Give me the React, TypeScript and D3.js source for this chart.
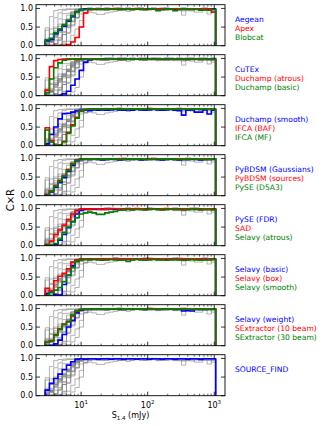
import * as d3 from "d3";

// flux bins (log spaced, mJy)
const binStart = 0.46;
const binStep = 0.064;
const nBins = 40;
const binEdges = d3.range(nBins + 1).map((i) => Math.pow(10, binStart + binStep * i));

const aegean = [0.13, 0.17, 0.32, 0.42, 0.52, 0.66, 0.78, 0.90, 0.97, 0.99,
  1.00, 0.99, 1.00, 0.99, 1.00, 0.99, 0.98, 1.00, 0.99, 1.00,
  0.99, 0.99, 1.00, 0.98, 0.99, 1.00, 0.99, 0.99, 1.00, 0.99,
  0.98, 0.99, 1.00, 0.99, 0.99, 0.98, 0.99, 1.00, 0.99, 0.99];
const apex = [0.00, 0.00, 0.00, 0.00, 0.01, 0.03, 0.10, 0.22, 0.50, 0.88,
  0.97, 0.99, 0.99, 0.98, 0.99, 0.99, 1.00, 0.99, 0.98, 0.99,
  0.99, 1.00, 0.99, 0.99, 0.98, 0.99, 0.99, 1.00, 0.99, 0.98,
  0.99, 0.99, 0.99, 0.98, 0.99, 0.99, 0.98, 0.99, 0.98, 0.90];
const blobcat = [0.16, 0.20, 0.35, 0.45, 0.56, 0.68, 0.80, 0.90, 0.96, 0.97,
  0.98, 0.97, 0.98, 0.98, 0.97, 0.98, 0.98, 0.97, 0.98, 0.98,
  0.97, 0.98, 0.98, 0.97, 0.98, 0.98, 0.94, 0.97, 0.98, 0.98,
  0.94, 0.97, 0.98, 0.98, 0.97, 0.98, 0.95, 0.96, 0.95, 0.97];
const cutex = [0.00, 0.00, 0.00, 0.01, 0.05, 0.12, 0.28, 0.45, 0.68, 0.90,
  0.96, 0.98, 0.99, 0.99, 1.00, 1.00, 0.99, 1.00, 1.00, 0.99,
  1.00, 0.99, 1.00, 1.00, 0.99, 1.00, 1.00, 0.99, 1.00, 1.00,
  0.99, 1.00, 0.99, 1.00, 1.00, 0.99, 1.00, 1.00, 0.99, 1.00];
const duchampAtrous = [0.15, 0.78, 0.94, 0.97, 0.98, 0.99, 0.98, 0.99, 0.98, 0.99,
  0.98, 0.99, 0.98, 0.98, 0.97, 0.98, 0.99, 0.98, 0.97, 0.98,
  0.98, 0.99, 0.98, 0.97, 0.98, 0.98, 0.99, 0.98, 0.97, 0.98,
  0.99, 0.98, 0.98, 0.97, 0.98, 0.98, 0.99, 0.98, 0.97, 0.98];
const duchampBasic = [0.08, 0.45, 0.75, 0.88, 0.95, 0.97, 0.98, 0.97, 0.98, 0.98,
  0.97, 0.98, 0.98, 0.97, 0.98, 0.99, 0.98, 0.97, 0.98, 0.98,
  0.99, 0.98, 0.97, 0.98, 0.98, 0.97, 0.98, 0.99, 0.98, 0.97,
  0.98, 0.98, 0.97, 0.98, 0.99, 0.98, 0.97, 0.98, 0.98, 0.97];
const duchampSmooth = [0.05, 0.30, 0.50, 0.72, 0.86, 0.87, 0.90, 0.93, 0.95, 0.95,
  0.94, 0.96, 0.95, 0.96, 0.95, 0.96, 0.97, 0.96, 0.95, 0.96,
  0.95, 0.97, 0.96, 0.95, 0.96, 0.97, 0.96, 0.95, 0.96, 0.97,
  0.95, 0.94, 0.82, 0.95, 0.96, 0.90, 0.90, 0.96, 0.85, 0.95];
const ifcaBaf = [0.48, 0.14, 0.01, 0.02, 0.12, 0.36, 0.56, 0.76, 0.93, 0.97,
  0.98, 0.99, 0.98, 0.99, 0.99, 0.98, 0.99, 1.00, 0.99, 0.98,
  0.99, 0.99, 0.98, 0.99, 1.00, 0.99, 0.98, 0.99, 0.99, 0.98,
  0.99, 1.00, 0.99, 0.98, 0.99, 0.99, 0.98, 0.99, 0.99, 0.98];
const ifcaMf = [0.42, 0.10, 0.01, 0.02, 0.10, 0.33, 0.53, 0.74, 0.92, 0.97,
  0.98, 0.98, 0.99, 0.98, 0.98, 0.99, 0.98, 0.99, 0.98, 0.98,
  0.99, 0.98, 0.98, 0.99, 0.98, 0.98, 0.99, 0.98, 0.98, 0.99,
  0.98, 0.98, 0.99, 0.98, 0.98, 0.99, 0.98, 0.98, 0.99, 0.98];
const pybdsmGauss = [0.02, 0.10, 0.22, 0.35, 0.48, 0.65, 0.82, 0.94, 0.97, 0.98,
  0.97, 0.98, 0.97, 0.96, 0.97, 0.98, 0.97, 0.96, 0.97, 0.97,
  0.98, 0.97, 0.96, 0.97, 0.98, 0.97, 0.97, 0.96, 0.97, 0.98,
  0.97, 0.96, 0.97, 0.97, 0.98, 0.97, 0.96, 0.97, 0.97, 0.98];
const pybdsmSrc = [0.03, 0.13, 0.26, 0.40, 0.53, 0.70, 0.86, 0.96, 0.98, 0.99,
  0.98, 0.99, 0.99, 0.98, 0.99, 0.99, 0.98, 0.99, 1.00, 0.99,
  0.98, 0.99, 0.99, 0.98, 0.99, 1.00, 0.99, 0.98, 0.99, 0.99,
  0.98, 0.99, 0.99, 1.00, 0.99, 0.98, 0.99, 0.99, 0.98, 0.99];
const pyseD5A3 = [0.02, 0.12, 0.25, 0.38, 0.52, 0.68, 0.85, 0.95, 0.98, 0.98,
  0.99, 0.98, 0.99, 0.98, 0.98, 0.99, 0.98, 0.97, 0.98, 0.99,
  0.98, 0.98, 0.99, 0.98, 0.97, 0.98, 0.99, 0.98, 0.98, 0.99,
  0.98, 0.97, 0.98, 0.98, 0.99, 0.98, 0.98, 0.97, 0.98, 0.99];
const pyseFdr = [0.00, 0.01, 0.04, 0.15, 0.30, 0.48, 0.65, 0.85, 0.95, 0.98,
  0.99, 0.98, 0.99, 0.99, 1.00, 0.99, 0.98, 0.99, 0.99, 1.00,
  0.99, 0.99, 0.98, 0.99, 1.00, 0.99, 0.99, 0.98, 0.99, 0.99,
  1.00, 0.99, 0.98, 0.99, 0.99, 1.00, 0.99, 0.98, 0.99, 0.99];
const sad = [0.03, 0.12, 0.30, 0.42, 0.55, 0.70, 0.85, 0.95, 0.98, 0.99,
  0.98, 0.99, 0.99, 0.98, 0.99, 1.00, 0.99, 0.99, 0.98, 0.99,
  0.99, 1.00, 0.99, 0.98, 0.99, 0.99, 0.98, 0.99, 1.00, 0.99,
  0.99, 0.98, 0.99, 0.99, 1.00, 0.99, 0.98, 0.99, 0.99, 0.98];
const selavyAtrous = [0.02, 0.03, 0.06, 0.18, 0.35, 0.50, 0.64, 0.75, 0.85, 0.88,
  0.90, 0.88, 0.84, 0.84, 0.88, 0.90, 0.92, 0.95, 0.96, 0.97,
  0.96, 0.97, 0.97, 0.96, 0.97, 0.98, 0.97, 0.96, 0.97, 0.98,
  0.97, 0.97, 0.96, 0.97, 0.98, 0.97, 0.96, 0.97, 0.97, 0.96];
const selavyBasic = [0.06, 0.12, 0.03, 0.02, 0.30, 0.55, 0.80, 0.94, 0.97, 0.98,
  0.99, 0.98, 0.99, 0.99, 0.98, 0.99, 1.00, 0.99, 0.98, 0.99,
  0.99, 0.98, 0.99, 1.00, 0.99, 0.98, 0.99, 0.99, 0.98, 0.99,
  1.00, 0.99, 0.98, 0.99, 0.99, 0.98, 0.99, 1.00, 0.99, 0.98];
const selavyBox = [0.20, 0.12, 0.40, 0.52, 0.60, 0.72, 0.90, 0.96, 0.98, 0.99,
  0.98, 0.99, 0.99, 0.98, 0.99, 0.99, 1.00, 0.99, 0.98, 0.99,
  0.99, 0.98, 0.99, 0.99, 1.00, 0.99, 0.98, 0.99, 0.99, 0.98,
  0.99, 1.00, 0.99, 0.98, 0.99, 0.99, 0.98, 0.99, 0.99, 0.98];
const selavySmooth = [0.02, 0.08, 0.15, 0.22, 0.38, 0.55, 0.75, 0.92, 0.96, 0.97,
  0.96, 0.97, 0.96, 0.95, 0.96, 0.97, 0.96, 0.95, 0.96, 0.92,
  0.96, 0.97, 0.96, 0.95, 0.96, 0.97, 0.96, 0.96, 0.95, 0.96,
  0.97, 0.96, 0.95, 0.96, 0.97, 0.96, 0.95, 0.96, 0.96, 0.97];
const selavyWeight = [0.00, 0.01, 0.05, 0.15, 0.30, 0.50, 0.68, 0.88, 0.95, 0.97,
  0.98, 0.97, 0.98, 0.98, 0.97, 0.98, 0.99, 0.98, 0.97, 0.98,
  0.98, 0.99, 0.98, 0.97, 0.98, 0.98, 0.97, 0.98, 0.99, 0.98,
  0.97, 0.98, 0.93, 0.94, 0.93, 0.97, 0.98, 0.97, 0.98, 0.98];
const sextractor10 = [0.10, 0.14, 0.30, 0.46, 0.58, 0.65, 0.80, 0.92, 0.97, 0.98,
  0.99, 0.98, 0.99, 0.99, 0.98, 0.99, 0.99, 1.00, 0.99, 0.98,
  0.99, 0.99, 0.98, 0.99, 1.00, 0.99, 0.99, 0.98, 0.99, 0.99,
  0.98, 0.99, 1.00, 0.99, 0.98, 0.99, 0.99, 0.98, 0.99, 0.99];
const sextractor30 = [0.10, 0.12, 0.28, 0.44, 0.57, 0.64, 0.82, 0.93, 0.97, 0.98,
  0.98, 0.99, 0.98, 0.98, 0.99, 0.98, 0.98, 0.99, 0.98, 0.98,
  0.99, 0.98, 0.98, 0.99, 0.98, 0.97, 0.98, 0.98, 0.99, 0.98,
  0.98, 0.99, 0.98, 0.98, 0.97, 0.98, 0.98, 0.99, 0.98, 0.98];
const sourceFind = [0.15, 0.33, 0.46, 0.58, 0.70, 0.82, 0.91, 0.98, 0.99, 0.98,
  0.99, 0.99, 0.98, 0.99, 0.99, 0.98, 0.99, 0.99, 0.98, 0.99,
  0.99, 0.98, 0.99, 0.99, 0.98, 0.99, 0.99, 0.98, 0.99, 0.99,
  0.98, 0.99, 0.99, 0.98, 0.99, 0.99, 0.98, 0.99, 0.99, 0.99];

const methodNames = [
  "Aegean", "Apex", "Blobcat",
  "CuTEx", "Duchamp (atrous)", "Duchamp (basic)",
  "Duchamp (smooth)", "IFCA (BAF)", "IFCA (MF)",
  "PyBDSM (Gaussians)", "PyBDSM (sources)", "PySE (D5A3)",
  "PySE (FDR)", "SAD", "Selavy (atrous)",
  "Selavy (basic)", "Selavy (box)", "Selavy (smooth)",
  "Selavy (weight)", "SExtractor (10 beam)", "SExtractor (30 beam)",
  "SOURCE_FIND",
];
const methodValues = [
  aegean, apex, blobcat, cutex, duchampAtrous, duchampBasic, duchampSmooth,
  ifcaBaf, ifcaMf, pybdsmGauss, pybdsmSrc, pyseD5A3, pyseFdr, sad,
  selavyAtrous, selavyBasic, selavyBox, selavySmooth, selavyWeight,
  sextractor10, sextractor30, sourceFind,
];

const colors = ["#0000ff", "#ff0000", "#008000"];
const yTicks = [0, 0.5, 1.0];
const xMajor = [10, 100, 1000];

const W = 327;
const H = 426;
const left = 36;
const right = 225;
const panelH = 41;
const panelGap = 50;
const firstTop = 4.7;
const font = "DejaVu Sans, sans-serif";

const x = d3.scaleLog().domain([2.1, 1450]).range([left, right]);
const y = d3.scaleLinear().domain([0, 1.1]).range([panelH, 0]);

const xMinor: number[] = [];
[1, 10, 100, 1000].forEach((d) => {
  for (let m = 2; m <= 9; m++) {
    const v = d * m;
    if (v > 2.1 && v < 1450) xMinor.push(v);
  }
});

const stepLine = d3.line<[number, number]>().x((d) => x(d[0])).y((d) => y(d[1]));

function stepPath(vals: number[]) {
  const pts: [number, number][] = [[binEdges[0], 0]];
  vals.forEach((v, i) => {
    pts.push([binEdges[i], v]);
    pts.push([binEdges[i + 1], v]);
  });
  pts.push([binEdges[vals.length], 0]);
  return stepLine(pts) || "";
}

export default function App() {
  const nPanels = Math.ceil(methodNames.length / 3);
  const panels = d3.range(nPanels).map((p) => d3.range(p * 3, Math.min(p * 3 + 3, methodNames.length)));
  const lastTop = firstTop + panelGap * (nPanels - 1);

  return (
    <svg width={W} height={H} style={{ position: "absolute", left: 0, top: 0, background: "#fff" }}
      fontFamily={font}>
      <defs>
        <clipPath id="plotClip">
          <rect x={left} y={0} width={right - left} height={panelH} />
        </clipPath>
      </defs>
      {panels.map((idx, p) => {
        const top = firstTop + panelGap * p;
        return (
          <g key={p} transform={`translate(0,${top})`}>
            <g clipPath="url(#plotClip)">
              {methodValues.map((vals, m) => (
                <path key={"g" + m} d={stepPath(vals)} fill="none" stroke="#808080"
                  strokeOpacity={0.6} strokeWidth={1} />
              ))}
              {idx.map((m, j) => (
                <path key={"c" + m} d={stepPath(methodValues[m])} fill="none" stroke={colors[j]}
                  strokeWidth={1.6} />
              ))}
            </g>
            <rect x={left} y={0} width={right - left} height={panelH} fill="none" stroke="#000" strokeWidth={0.9} />
            {yTicks.map((t) => (
              <g key={t}>
                <line x1={left} x2={left + 4} y1={y(t)} y2={y(t)} stroke="#000" strokeWidth={0.8} />
                <line x1={right} x2={right - 4} y1={y(t)} y2={y(t)} stroke="#000" strokeWidth={0.8} />
                <text x={left - 3} y={y(t)} dy="0.35em" textAnchor="end" fontSize={8}>{t.toFixed(1)}</text>
              </g>
            ))}
            {xMajor.map((t) => (
              <g key={t}>
                <line x1={x(t)} x2={x(t)} y1={panelH} y2={panelH - 4} stroke="#000" strokeWidth={0.8} />
                <line x1={x(t)} x2={x(t)} y1={0} y2={4} stroke="#000" strokeWidth={0.8} />
              </g>
            ))}
            {xMinor.map((t) => (
              <g key={t}>
                <line x1={x(t)} x2={x(t)} y1={panelH} y2={panelH - 2} stroke="#000" strokeWidth={0.6} />
                <line x1={x(t)} x2={x(t)} y1={0} y2={2} stroke="#000" strokeWidth={0.6} />
              </g>
            ))}
            {idx.map((m, j) => (
              <text key={"l" + m} x={235} y={15 + 8.8 * j} dy="0.35em" fontSize={7.6} fill={colors[j]}>
                {methodNames[m]}
              </text>
            ))}
          </g>
        );
      })}
      {xMajor.map((t) => (
        <text key={"xt" + t} x={x(t)} y={lastTop + panelH + 12} textAnchor="middle" fontSize={8}>
          10<tspan fontSize={5.5} dy={-3.5}>{Math.round(Math.log10(t))}</tspan>
        </text>
      ))}
      <text x={(left + right) / 2} y={lastTop + panelH + 22.5} textAnchor="middle" fontSize={8}>
        S<tspan fontSize={5.5} dy={1.5}>1.4</tspan><tspan dy={-1.5}> (mJy)</tspan>
      </text>
      <text transform={`translate(14,${(firstTop + lastTop + panelH) / 2}) rotate(-90)`} textAnchor="middle"
        fontSize={10}>C×R</text>
    </svg>
  );
}
